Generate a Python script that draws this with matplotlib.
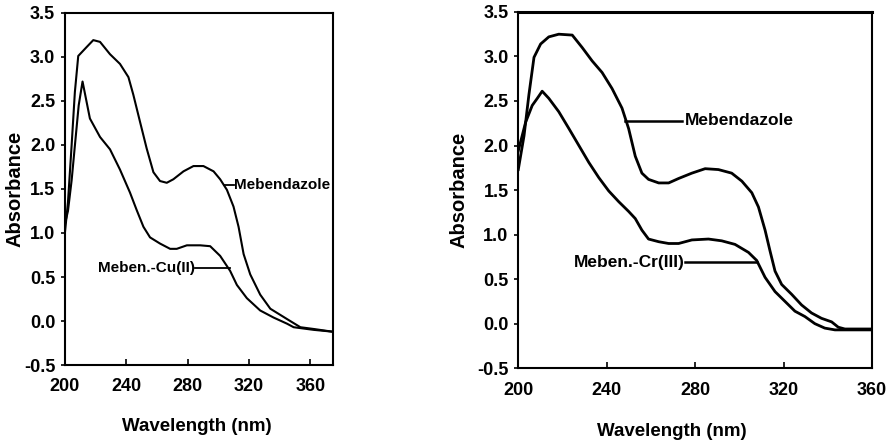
import matplotlib
matplotlib.use("Agg")
import matplotlib.pyplot as plt

plt.rcParams['font.family'] = ['Liberation Sans', 'DejaVu Sans']
plt.rcParams['font.weight'] = 'bold'

# Left panel: Mebendazole and Meben.-Cu(II)
wl_meb_L = [200, 202, 204.4, 206.5, 208.7, 214.1, 218.5, 222.9, 229.4, 235.9, 241.4, 244.6,
            249.0, 253.3, 257.7, 262.0, 266.4, 270.7, 277.3, 283.8, 290.3, 296.9, 301.2,
            305.6, 309.9, 313.2, 316.5, 320.8, 327.3, 333.9, 340.4, 346.9, 353.5, 362.2, 374.1]
abs_meb_L = [1.00, 1.35, 2.00, 2.60, 3.01, 3.11, 3.19, 3.17, 3.03, 2.92, 2.77, 2.57,
             2.26, 1.96, 1.69, 1.59, 1.57, 1.61, 1.70, 1.76, 1.76, 1.70, 1.61,
             1.49, 1.30, 1.07, 0.76, 0.53, 0.30, 0.14, 0.07, 0.00, -0.07, -0.09, -0.12]

wl_cu = [200, 202, 204.4, 206.5, 209.0, 211.5, 216.3, 222.9, 229.4, 235.9, 242.4, 246.8,
         251.2, 255.5, 262.0, 268.6, 272.9, 279.5, 288.2, 294.7, 301.2, 307.7, 312.1,
         318.6, 327.3, 336.0, 344.8, 349.1, 362.2, 374.1]
abs_cu = [1.10, 1.25, 1.60, 1.99, 2.45, 2.72, 2.30, 2.09, 1.95, 1.72, 1.46, 1.26,
          1.07, 0.95, 0.88, 0.82, 0.82, 0.86, 0.86, 0.85, 0.74, 0.57, 0.41,
          0.26, 0.12, 0.04, -0.03, -0.07, -0.10, -0.12]

# Right panel: Mebendazole and Meben.-Cr(III)
wl_meb_R = [200, 202.6, 204.8, 207.1, 210.1, 213.8, 218.3, 224.4, 228.9, 233.4, 237.9, 242.4,
            246.9, 249.9, 252.9, 255.9, 258.9, 263.5, 268.0, 272.5, 278.5, 284.5, 290.5,
            296.5, 301.1, 305.6, 308.6, 311.6, 313.8, 316.1, 319.1, 323.6, 328.1, 332.6,
            337.1, 341.7, 344.7, 347.7, 360]
abs_meb_R = [1.73, 2.11, 2.57, 2.99, 3.14, 3.22, 3.25, 3.24, 3.10, 2.95, 2.82, 2.64,
             2.42, 2.19, 1.88, 1.69, 1.62, 1.58, 1.58, 1.63, 1.69, 1.74, 1.73,
             1.69, 1.60, 1.47, 1.31, 1.05, 0.82, 0.59, 0.44, 0.33, 0.21, 0.12,
             0.06, 0.02, -0.04, -0.06, -0.06]

wl_cr = [200, 203.3, 206.3, 208.6, 210.8, 213.8, 218.3, 222.9, 227.4, 231.9, 236.4, 240.9,
         245.4, 249.9, 252.9, 255.9, 258.9, 263.5, 268.0, 272.5, 278.5, 286.0, 292.0,
         298.0, 304.1, 307.8, 311.6, 316.1, 320.6, 325.1, 329.6, 334.1, 338.6, 343.2, 360]
abs_cr = [1.94, 2.26, 2.45, 2.53, 2.61, 2.53, 2.38, 2.19, 2.00, 1.81, 1.64, 1.49,
          1.37, 1.26, 1.18, 1.05, 0.95, 0.92, 0.90, 0.90, 0.94, 0.95, 0.93,
          0.89, 0.80, 0.71, 0.52, 0.36, 0.25, 0.14, 0.08, 0.00, -0.05, -0.07, -0.07]

yticks = [-0.5, 0.0, 0.5, 1.0, 1.5, 2.0, 2.5, 3.0, 3.5]
xticks = [200, 240, 280, 320, 360]

fig = plt.figure(figsize=(8.89, 4.42), dpi=100)
axL = fig.add_axes([0.073, 0.174, 0.302, 0.797])
axR = fig.add_axes([0.583, 0.167, 0.398, 0.806])

def style(ax, xmax, xlab_x, xlab_y, ylab_x, xpad):
    ax.set_xlim(200, xmax)
    ax.set_ylim(-0.5, 3.5)
    ax.set_xticks(xticks)
    ax.set_yticks(yticks)
    ax.set_yticklabels([f"{v:.1f}" for v in yticks])
    ax.tick_params(axis='x', direction='in', length=4, width=1.2, labelsize=13, pad=xpad)
    ax.tick_params(axis='y', direction='out', length=3, width=1.2, labelsize=13, pad=4)
    for s in ax.spines.values():
        s.set_linewidth(1.5)
    ax.set_xlabel("Wavelength (nm)", fontsize=13.5, fontweight='bold')
    ax.set_ylabel("Absorbance", fontsize=14.5, fontweight='bold')
    ax.xaxis.set_label_coords(xlab_x, xlab_y)
    ax.yaxis.set_label_coords(ylab_x, 0.5)

axL.plot(wl_meb_L, abs_meb_L, color='black', lw=1.5)
axL.plot(wl_cu, abs_cu, color='black', lw=1.5)
style(axL, 375, 0.49, -0.151, -0.149, 9)
axL.plot([303.4, 309.9], [1.55, 1.55], color='black', lw=1.3)
axL.text(309.9, 1.55, "Mebendazole", fontsize=11, fontweight='bold', va='center', ha='left')
axL.plot([284.9, 307.6], [0.60, 0.60], color='black', lw=1.3)
axL.text(284.9, 0.60, "Meben.-Cu(II)", fontsize=11, fontweight='bold', va='center', ha='right')

axR.plot(wl_meb_R, abs_meb_R, color='black', lw=2)
axR.plot(wl_cr, abs_cr, color='black', lw=2)
style(axR, 360, 0.435, -0.154, -0.141, 10)
axR.spines['top'].set_linewidth(2.2)
axR.plot([248.4, 274.0], [2.28, 2.28], color='black', lw=1.8)
axR.text(275.5, 2.28, "Mebendazole", fontsize=12.5, fontweight='bold', va='center', ha='left')
axR.plot([275.5, 307.8], [0.69, 0.69], color='black', lw=1.8)
axR.text(275.5, 0.69, "Meben.-Cr(III)", fontsize=12.5, fontweight='bold', va='center', ha='right')

fig.savefig("out.png", dpi=100)
